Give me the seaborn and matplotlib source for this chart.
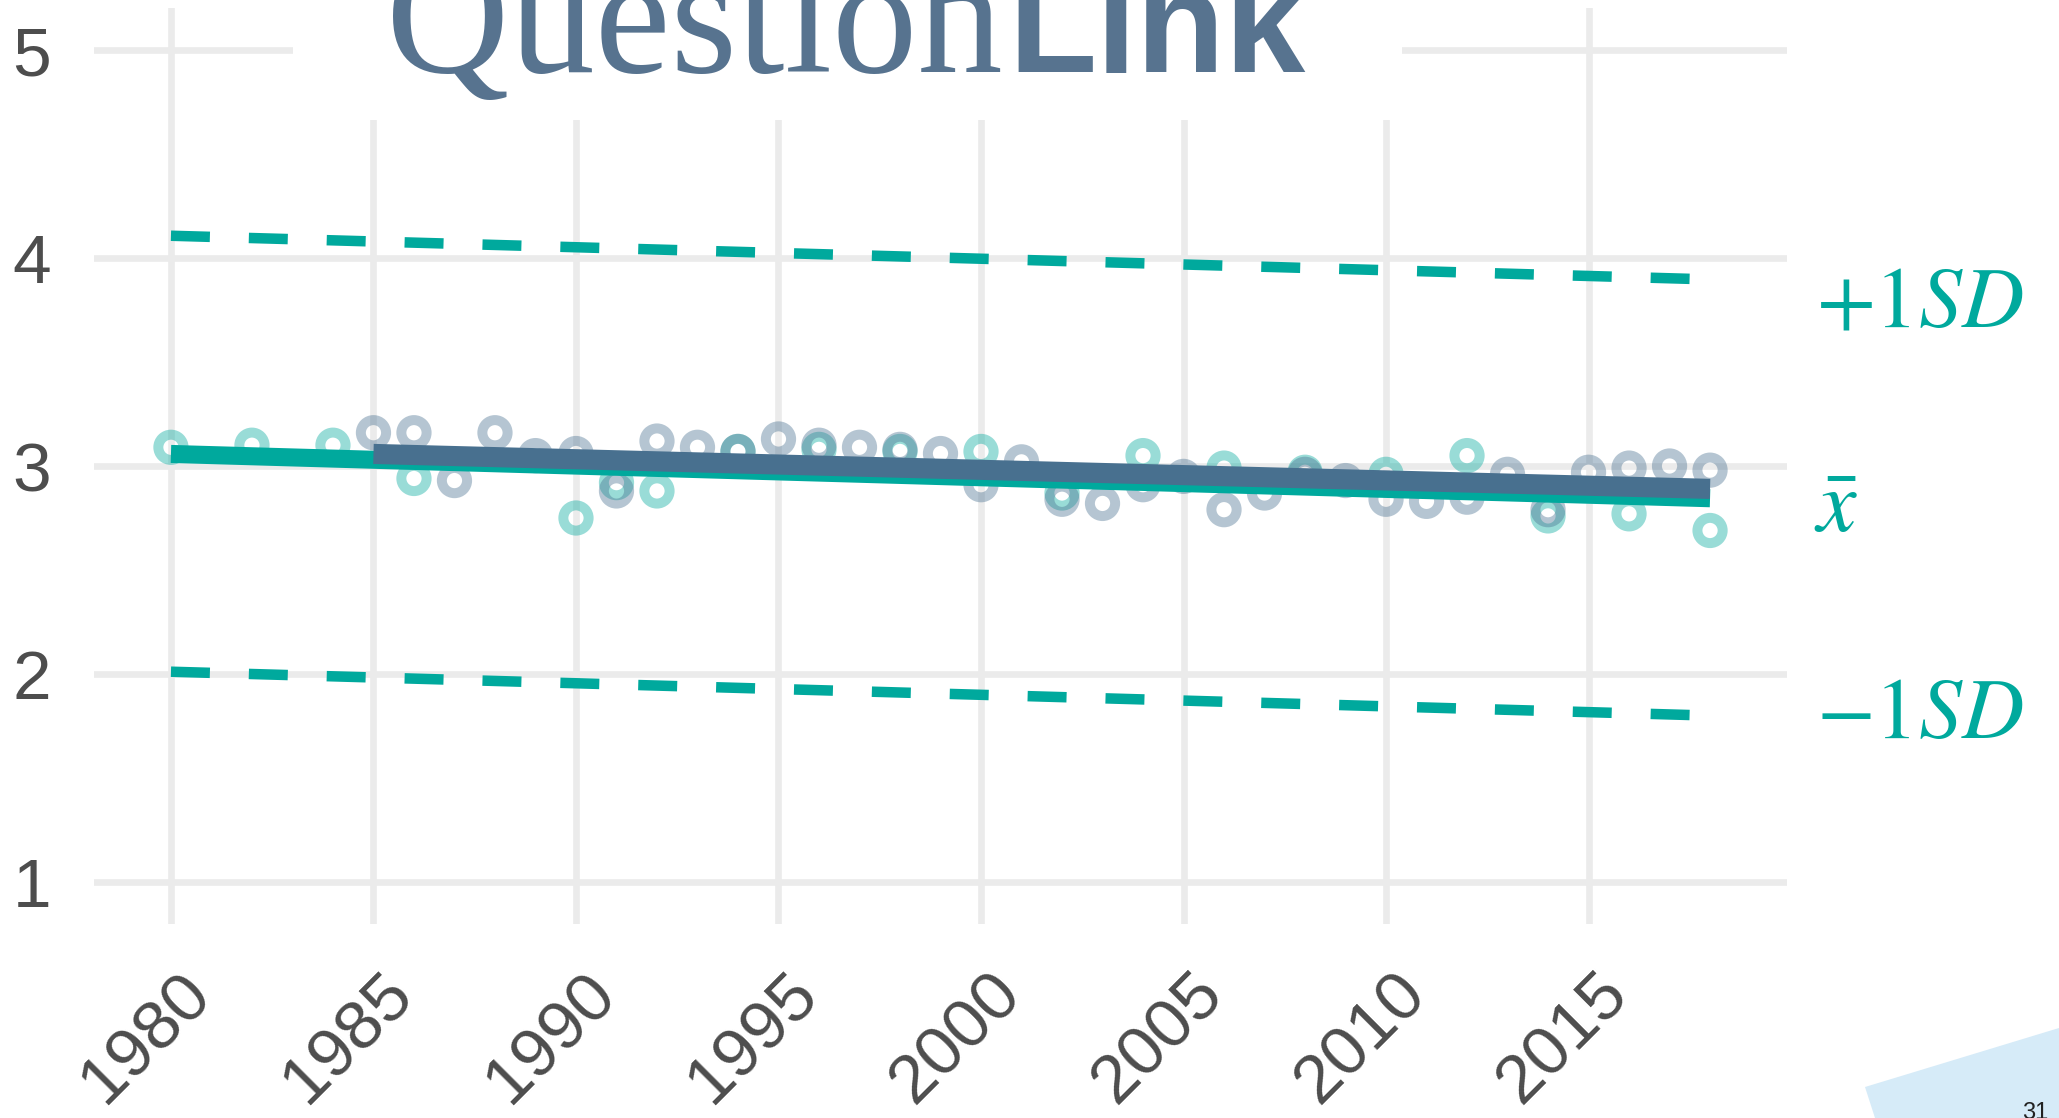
import numpy as np
import pandas as pd
import matplotlib.pyplot as plt
import matplotlib.transforms as mtransforms
from matplotlib.patches import Rectangle, Polygon
import seaborn as sns

# Data
teal_years = [1980, 1982, 1984, 1986, 1990, 1991, 1992, 1994, 1996, 1998,
              2000, 2002, 2004, 2006, 2008, 2010, 2012, 2014, 2016, 2018]
teal_values = [3.09, 3.10, 3.10, 2.94, 2.75, 2.92, 2.88, 3.07, 3.08, 3.07,
               3.07, 2.87, 3.05, 2.99, 2.97, 2.96, 3.05, 2.76, 2.77, 2.69]

gray_years = list(range(1985, 2019))
gray_values = [3.16, 3.16, 2.93, 3.16, 3.05, 3.06, 2.88, 3.12, 3.09, 3.07,
               3.13, 3.10, 3.09, 3.08, 3.06, 2.91, 3.02, 2.84, 2.82, 2.91,
               2.95, 2.79, 2.87, 2.96, 2.93, 2.84, 2.83, 2.85, 2.96, 2.79,
               2.97, 2.99, 3.00, 2.98]

mean_years = [1980, 2018]
mean_values = [3.058, 2.845]
upper_values = [4.107, 3.897]
lower_values = [2.011, 1.800]

gray_trend_years = [1985, 2018]
gray_trend_values = [3.058, 2.890]

x_ticks = [1980, 1985, 1990, 1995, 2000, 2005, 2010, 2015]
y_ticks = [1, 2, 3, 4, 5]

TEAL = '#00A99D'
SLATE = '#48708F'
LOGO = '#57738F'
GRID = '#EBEBEB'
TEXT = '#4D4D4D'

sns.set_theme(style="whitegrid")
plt.rcParams['font.family'] = ['Liberation Sans', 'DejaVu Sans']
plt.rcParams['mathtext.fontset'] = 'stix'

W, H = 2059, 1118
fig = plt.figure(figsize=(W / 100, H / 100), dpi=100)
fig.patch.set_facecolor('white')
ax = fig.add_axes([94 / W, 1 - 923.6 / H, 1693 / W, 915.2 / H])
ax.set_facecolor('white')

# points (open rings)
ring = dict(s=330, facecolor='none', linewidth=7.2, alpha=0.4, zorder=2)
sns.scatterplot(x=teal_years, y=teal_values, color=TEAL, edgecolor=TEAL, ax=ax, **ring)
sns.scatterplot(x=gray_years, y=gray_values, color=SLATE, edgecolor=SLATE, ax=ax, **ring)

# mean and +/- 1 SD lines
for vals in (upper_values, lower_values):
    sns.lineplot(x=mean_years, y=vals, color=TEAL, linewidth=7.56,
                 linestyle=(0, (3.71, 3.71)), dash_capstyle='butt', ax=ax, zorder=3)
sns.lineplot(x=mean_years, y=mean_values, color=TEAL, linewidth=13,
             solid_capstyle='butt', ax=ax, zorder=4)
sns.lineplot(x=gray_trend_years, y=gray_trend_values, color=SLATE, linewidth=14.5,
             solid_capstyle='butt', ax=ax, zorder=5)

ax.set_xlim(1978.1, 2019.9)
ax.set_ylim(0.8, 5.2)
ax.set_xticks(x_ticks)
ax.set_yticks(y_ticks)
ax.set_xlabel('')
ax.set_ylabel('')
ax.grid(True, color=GRID, linewidth=4.8)
ax.set_axisbelow(True)
for s in ax.spines.values():
    s.set_visible(False)
ax.tick_params(axis='y', length=0, labelsize=50, labelcolor=TEXT, pad=31)
ax.tick_params(axis='x', length=0, labelsize=50, labelcolor=TEXT, pad=27)
offset = mtransforms.ScaledTranslation(0.07, 0, fig.dpi_scale_trans)
for lab in ax.get_xticklabels():
    lab.set_rotation(45)
    lab.set_rotation_mode('anchor')
    lab.set_ha('right')
    lab.set_va('top')
    lab.set_transform(lab.get_transform() + offset)

# logo block covering the top of the panel
fig.patches.append(Rectangle((293 / W, 1 - 120 / H), 1109 / W, 120 / H,
                             transform=fig.transFigure, facecolor='white',
                             edgecolor='none', zorder=5))
fig.text(386 / W, 1 - 72 / H, 'Question', family='Liberation Serif', fontsize=123,
         color=LOGO, ha='left', va='baseline', zorder=6)
fig.text(1008 / W, 1 - 72 / H, 'Link', family='Liberation Sans', fontweight='bold',
         fontsize=104, color=LOGO, ha='left', va='baseline', zorder=6)

# labels at the right
fig.text(1816 / W, 1 - 326 / H, r'$+1SD$', fontsize=62, color=TEAL, ha='left', va='baseline')
fig.text(1814 / W, 1 - 532 / H, r'$\bar{x}$', fontsize=64, color=TEAL, ha='left', va='baseline')
fig.text(1816 / W, 1 - 738 / H, r'$-1SD$', fontsize=62, color=TEAL, ha='left', va='baseline')

# slide corner
fig.patches.append(Polygon([(1865 / W, 1 - 1087 / H), (1.0, 1 - 1028 / H), (1.0, 0.0),
                            (1875 / W, 0.0)], closed=True, transform=fig.transFigure,
                           facecolor='#D6EBF8', edgecolor='none', zorder=1))
fig.text(2022 / W, 1 - 1119 / H, '31', fontsize=17, color='#222222', ha='left',
         va='baseline', zorder=2)

fig.savefig('out.png', dpi=100)
